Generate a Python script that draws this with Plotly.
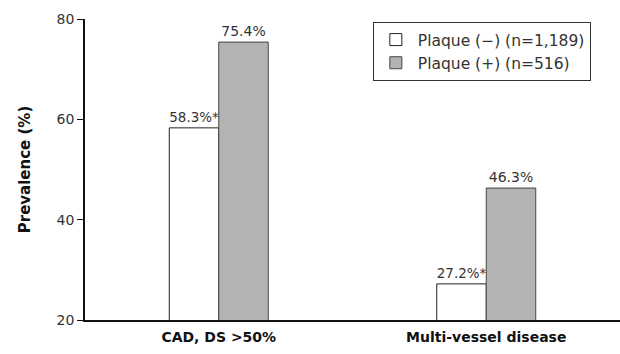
import plotly.graph_objects as go

categories = ["CAD, DS >50%", "Multi-vessel disease"]
plaque_neg = [58.3, 27.2]
plaque_pos = [75.4, 46.3]
neg_labels = ["58.3%*", "27.2%*"]
pos_labels = ["75.4%", "46.3%"]
series_names = ["Plaque (\u2212) (n=1,189)", "Plaque (+) (n=516)"]
y_ticks = [20, 40, 60, 80]

FONT = "DejaVu Sans, sans-serif"
TEXT_COLOR = "#333333"

fig = go.Figure()
fig.add_trace(go.Bar(
    x=categories, y=plaque_neg, name=series_names[0],
    marker=dict(color="white", line=dict(color="#222222", width=1)),
    text=neg_labels, textposition="outside", cliponaxis=False,
    textfont=dict(size=14, color=TEXT_COLOR, family=FONT),
))
fig.add_trace(go.Bar(
    x=categories, y=plaque_pos, name=series_names[1],
    marker=dict(color="#b3b3b3", line=dict(color="#444444", width=1)),
    text=pos_labels, textposition="outside", cliponaxis=False,
    textfont=dict(size=14, color=TEXT_COLOR, family=FONT),
))

fig.update_layout(
    width=620, height=354,
    margin=dict(l=85, r=0, t=19, b=34),
    paper_bgcolor="white", plot_bgcolor="white",
    barmode="group", bargap=0.63, bargroupgap=0,
    font=dict(family=FONT, size=14, color=TEXT_COLOR),
    showlegend=True,
    legend=dict(
        x=0.538, y=0.99, xanchor="left", yanchor="top",
        bordercolor="#333333", borderwidth=1, bgcolor="white",
        font=dict(size=15.5, color=TEXT_COLOR, family=FONT),
        tracegroupgap=0, itemwidth=34,
    ),
)
fig.update_xaxes(
    showline=True, linecolor="#111111", linewidth=1.5,
    ticks="", showgrid=False, range=[-0.5, 1.5], ticklabelstandoff=3,
    tickfont=dict(size=14, color="#111111", family=FONT, weight="bold"),
)
fig.update_yaxes(
    range=[20, 80], tickvals=y_ticks, showgrid=False, zeroline=False,
    showline=True, linecolor="#111111", linewidth=1.5,
    ticks="outside", ticklen=6, tickcolor="#111111", tickwidth=1,
    tickfont=dict(size=14, color=TEXT_COLOR, family=FONT),
    title=dict(text="Prevalence (%)", standoff=22,
               font=dict(size=15, color="#111111", family=FONT, weight="bold")),
)

fig.write_html("out.html")
